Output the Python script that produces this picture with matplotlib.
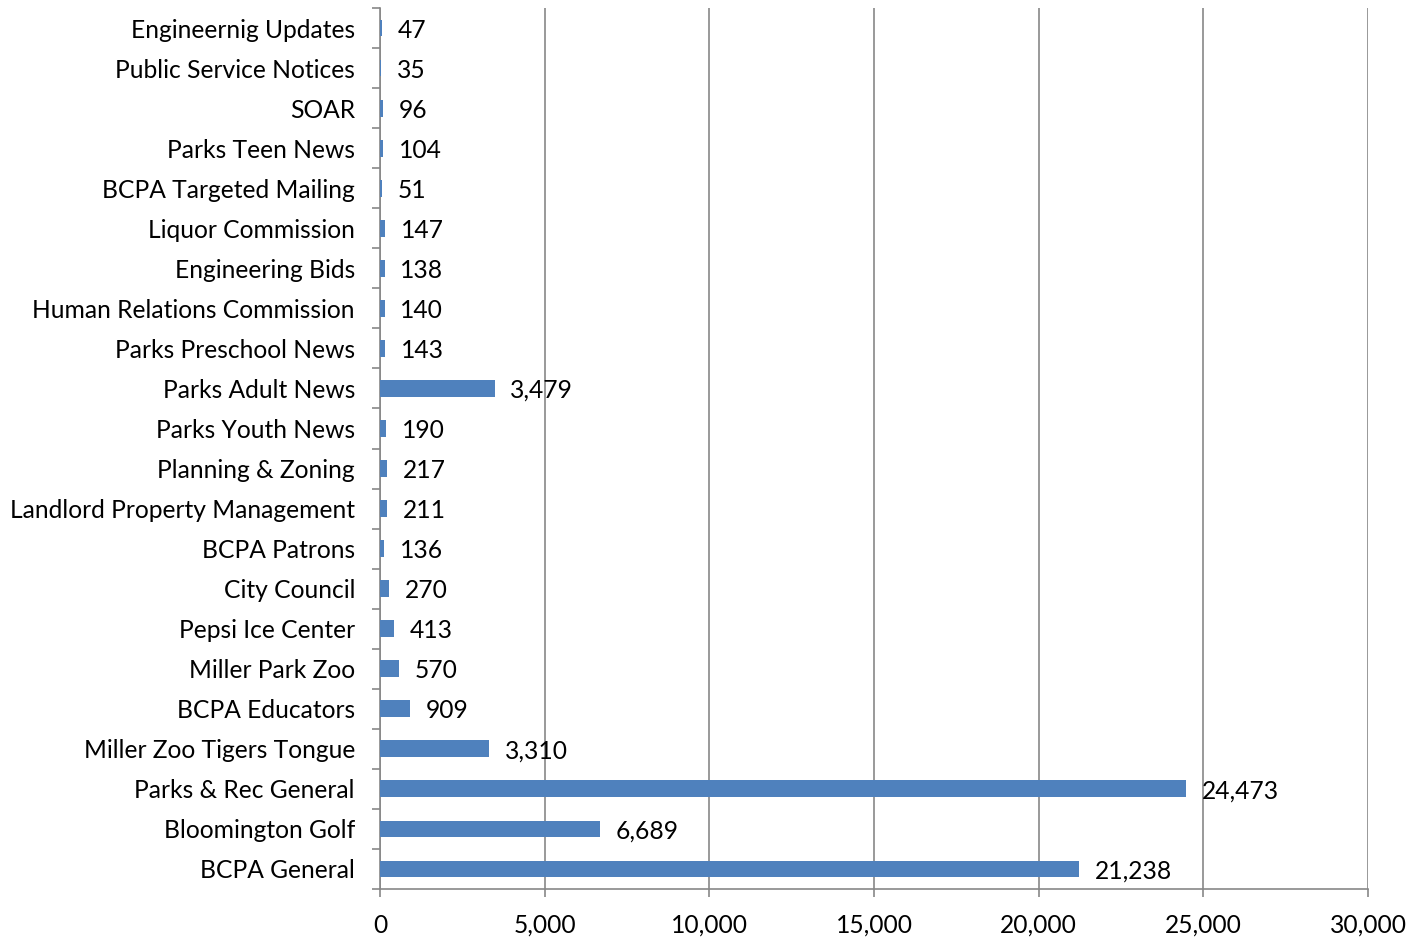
import matplotlib.pyplot as plt
from matplotlib import ticker

plt.rcParams.update({'font.family': 'Lato', 'font.size': 17.7})

categories = ['BCPA General', 'Bloomington Golf', 'Parks & Rec General', 'Miller Zoo Tigers Tongue',
              'BCPA Educators', 'Miller Park Zoo', 'Pepsi Ice Center', 'City Council', 'BCPA Patrons',
              'Landlord Property Management', 'Planning & Zoning', 'Parks Youth News', 'Parks Adult News',
              'Parks Preschool News', 'Human Relations Commission', 'Engineering Bids', 'Liquor Commission',
              'BCPA Targeted Mailing', 'Parks Teen News', 'SOAR', 'Public Service Notices', 'Engineernig Updates']
values = [21238, 6689, 24473, 3310, 909, 570, 413, 270, 136, 211, 217, 190, 3479,
          143, 140, 138, 147, 51, 104, 96, 35, 47]
xticks = [0, 5000, 10000, 15000, 20000, 25000, 30000]

BLUE = '#4F81BD'
GRID = '#878787'

fig = plt.figure(figsize=(14.24, 9.39), dpi=100)
ax = fig.add_axes([380 / 1424, 1 - 889 / 939, 988 / 1424, 881 / 939])

ypos = range(len(categories))
ax.barh(ypos, values, height=0.42, color=BLUE, zorder=3)
for y, v in zip(ypos, values):
    ax.text(v + 480, y - 0.05, f'{v:,}', va='center', ha='left', zorder=4)

ax.set_xlim(0, 30000)
ax.set_ylim(-0.5, len(categories) - 0.5)
ax.set_xticks(xticks)
ax.xaxis.set_major_formatter(ticker.FuncFormatter(lambda x, pos: f'{int(x):,}'))
ax.set_yticks(list(ypos))
ax.set_yticklabels(categories)
ax.set_yticks([i - 0.5 for i in range(len(categories) + 1)], minor=True)
ax.tick_params(axis='y', which='major', length=0, pad=18)
ax.tick_params(axis='y', which='minor', length=6, width=1.2, color=GRID)
ax.tick_params(axis='x', length=6, width=1.2, color=GRID, pad=12)

ax.grid(axis='x', color=GRID, lw=1.2, zorder=0)
for s in ['top', 'right']:
    ax.spines[s].set_visible(False)
for s in ['left', 'bottom']:
    ax.spines[s].set_color(GRID)
    ax.spines[s].set_linewidth(1.2)

fig.savefig('out.png', dpi=100)
